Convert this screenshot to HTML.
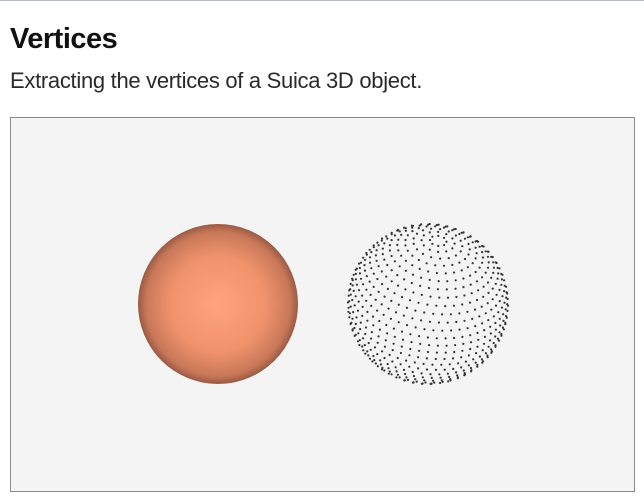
<!DOCTYPE html>
<html><head><meta charset="utf-8"><style>
body{margin:0;width:644px;height:502px;background:#fff;overflow:hidden;font-family:"Liberation Sans",sans-serif;}
#topline{position:absolute;left:0;top:0;width:644px;height:1px;background:#b8bcc4;}
h1{position:absolute;left:10px;top:23px;margin:0;font-size:29px;font-weight:bold;color:#111;letter-spacing:-0.5px;}
p{position:absolute;left:10px;top:68px;margin:0;font-size:22px;color:#2a2a2a;letter-spacing:-0.3px;}
#frame{position:absolute;left:10px;top:117px;width:623px;height:373px;border:1px solid #8a8a8a;background:#f4f4f4;}
</style></head><body>
<div id="topline"></div>
<h1>Vertices</h1>
<p>Extracting the vertices of a Suica 3D object.</p>
<div id="frame">
<svg width="623" height="373">
<defs><radialGradient id="g" cx="0.5" cy="0.5" r="0.5">
<stop offset="0" stop-color="#ffa47c"/><stop offset="0.6" stop-color="#f0926c"/><stop offset="0.9" stop-color="#c87858"/><stop offset="1" stop-color="#9a5a44"/></radialGradient></defs>
<circle cx="207" cy="186" r="80" fill="url(#g)"/>
<g id="pts"></g>
</svg></div>
<script>
const rings = 30;
const segments = 56;
const axisDir = [0.13, -0.8, 0.6];
const cx = 417, cy = 186, R = 80;
(function(){
  const n = Math.hypot(...axisDir); const a = axisDir.map(v=>v/n);
  let u = [1,0,0]; const d = u[0]*a[0]+u[1]*a[1]+u[2]*a[2];
  u = u.map((v,i)=>v-d*a[i]); const un = Math.hypot(...u); u = u.map(v=>v/un);
  const w = [a[1]*u[2]-a[2]*u[1], a[2]*u[0]-a[0]*u[2], a[0]*u[1]-a[1]*u[0]];
  const g = document.getElementById('pts'); let s='';
  for(let i=1;i<rings;i++){
    const th = Math.PI*i/rings; const r = Math.sin(th), h = Math.cos(th);
    const cnt = Math.max(8, Math.round(segments*r));
    for(let j=0;j<cnt;j++){
      const ph = 2*Math.PI*j/cnt;
      const p = [0,1,2].map(k=>a[k]*h + u[k]*r*Math.cos(ph) + w[k]*r*Math.sin(ph));
      if(p[2] < -0.05) continue;
      s += `<circle cx="${(cx+p[0]*R).toFixed(1)}" cy="${(cy+p[1]*R).toFixed(1)}" r="1.1" fill="#333"/>`;
    }
  }
  g.innerHTML = s;
})();
</script>
</body></html>
